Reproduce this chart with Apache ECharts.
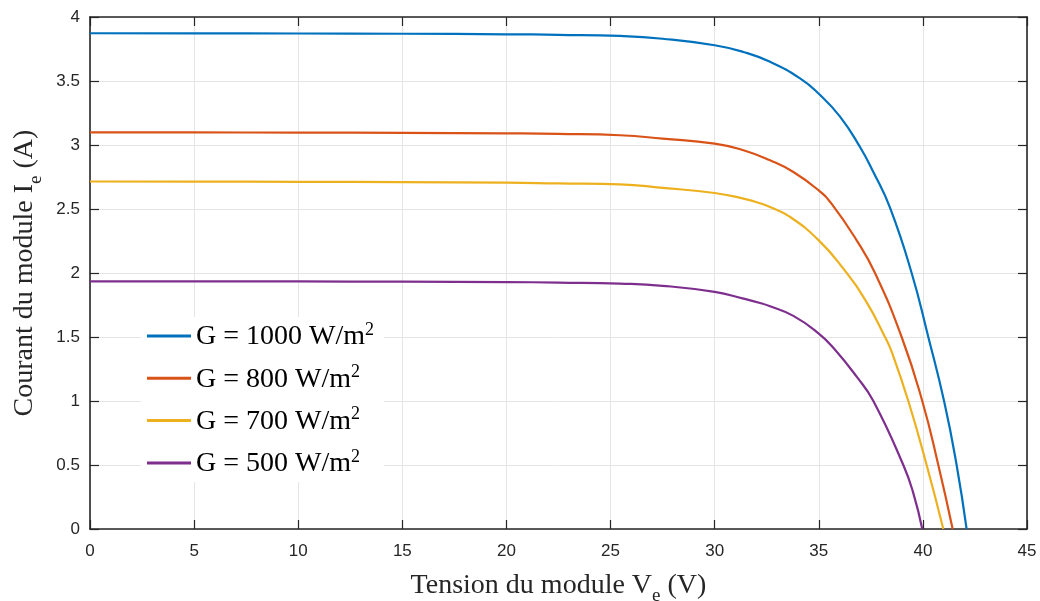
<!DOCTYPE html>
<html>
<head>
<meta charset="utf-8">
<script src="https://cdn.jsdelivr.net/npm/echarts@6/dist/echarts.min.js"></script>
<style>html,body{margin:0;padding:0;background:#fff;}#c{width:1040px;height:601px;}</style>
</head>
<body>
<div id="c"></div>
<script>
// Irradiance levels (legend)
const irradiance = ['1000', '800', '700', '500'];
const colors = ['#0072BD', '#D95319', '#EDB120', '#7E2F8E'];

// Voltage (V) and current (A), per curve
const V1000 = [0, 5, 10, 15, 20, 22.5, 25.45, 27.5, 30, 31.38, 32.66, 34.1, 35, 36.02, 36.98, 37.62, 38.42, 39.46, 40.26, 41.03, 41.62, 42.1];
const I1000 = [3.873, 3.872, 3.871, 3.869, 3.865, 3.861, 3.852, 3.83, 3.779, 3.727, 3.65, 3.52, 3.40, 3.222, 2.984, 2.789, 2.51, 2.0, 1.5, 0.99, 0.5, 0];

const V800 = [0, 5, 10, 15, 20, 22.5, 25.45, 27.5, 30, 31.38, 32.66, 33.78, 35, 35.62, 36.82, 37.7, 38.98, 39.97, 40.74, 41.43];
const I800 = [3.099, 3.098, 3.097, 3.095, 3.091, 3.087, 3.076, 3.05, 3.011, 2.959, 2.88, 2.789, 2.645, 2.54, 2.255, 2.0, 1.5, 1.0, 0.5, 0];

const V700 = [0, 5, 10, 15, 20, 22.5, 25.45, 27.5, 30, 31.38, 32.18, 32.66, 33.62, 35, 36.18, 37.3, 38.18, 38.5, 39.3, 40.18, 40.98];
const I700 = [2.715, 2.714, 2.712, 2.71, 2.706, 2.70, 2.693, 2.665, 2.625, 2.581, 2.545, 2.515, 2.438, 2.255, 2.034, 1.77, 1.5, 1.385, 1.0, 0.5, 0];

const V500 = [0, 5, 10, 15, 20, 22.5, 25.45, 27.5, 30, 31.38, 32.18, 32.66, 33.78, 35, 35.73, 36.82, 37.62, 39.06, 39.54, 39.97];
const I500 = [1.935, 1.935, 1.934, 1.932, 1.929, 1.925, 1.917, 1.90, 1.852, 1.80, 1.766, 1.74, 1.665, 1.527, 1.41, 1.19, 1.0, 0.5, 0.28, 0];

const xTicks = [0, 5, 10, 15, 20, 25, 30, 35, 40, 45];
const yTicks = [0, 0.5, 1, 1.5, 2, 2.5, 3, 3.5, 4];

const curves = [[V1000, I1000], [V800, I800], [V700, I700], [V500, I500]];
const names = irradiance.map(g => 'G = ' + g + ' W/m2');

const axisColor = '#262626';
const tickFont = "'Liberation Sans', Arial, sans-serif";
const serif = "'Liberation Serif', 'Times New Roman', serif";

const baseAxis = {
  axisLine: { show: true, onZero: false, lineStyle: { color: axisColor, width: 1.6 } },
  axisTick: { show: true, inside: true, length: 9, lineStyle: { color: axisColor, width: 1.2 } },
};

const chart = echarts.init(document.getElementById('c'), null, { renderer: 'canvas' });
chart.setOption({
  backgroundColor: '#ffffff',
  animation: false,
  color: colors,
  grid: { left: 90, right: 13, top: 17, bottom: 72, containLabel: false, outerBoundsMode: 'none' },
  legend: {
    orient: 'vertical',
    left: 141,
    top: 317,
    icon: 'rect',
    itemWidth: 44,
    itemHeight: 3,
    itemGap: 12.3,
    backgroundColor: '#ffffff',
    padding: [4, 10, 4, 6],
    data: names,
    formatter: function (n) {
      const g = n.replace('G = ', '').replace(' W/m2', '');
      return '{a|G = ' + g + ' W/m}{s|2}';
    },
    textStyle: {
      rich: {
        a: { fontFamily: serif, fontSize: 28, color: '#000', lineHeight: 30, verticalAlign: 'bottom' },
        s: { fontFamily: serif, fontSize: 18, color: '#000', lineHeight: 14, verticalAlign: 'top', padding: [0, 0, 12, 0] }
      }
    }
  },
  xAxis: [
    Object.assign({}, baseAxis, {
      type: 'value', min: 0, max: 45, interval: 5, position: 'bottom',
      name: '{t|Tension du module V}{s|e}{t| (V)}',
      nameLocation: 'middle', nameGap: 28,
      nameTextStyle: {
        rich: {
          t: { fontFamily: serif, fontSize: 28, color: '#262626', lineHeight: 34 },
          s: { fontFamily: serif, fontSize: 19, color: '#262626', lineHeight: 34, padding: [22, 0, 0, 0] }
        }
      },
      axisLabel: { show: true, margin: 14, color: axisColor, fontFamily: tickFont, fontSize: 17,
        formatter: v => (xTicks.indexOf(v) >= 0 ? String(v) : '') },
      splitLine: { show: true, lineStyle: { color: '#e5e5e5', width: 1 } }
    }),
    Object.assign({}, baseAxis, {
      type: 'value', min: 0, max: 45, interval: 5, position: 'top',
      axisLabel: { show: false }, splitLine: { show: false }
    })
  ],
  yAxis: [
    Object.assign({}, baseAxis, {
      type: 'value', min: 0, max: 4, interval: 0.5, position: 'left',
      name: '{t|Courant du module I}{s|e}{t| (A)}',
      nameLocation: 'middle', nameGap: 48, nameRotate: 90,
      nameTextStyle: {
        rich: {
          t: { fontFamily: serif, fontSize: 28, color: '#262626', lineHeight: 34 },
          s: { fontFamily: serif, fontSize: 19, color: '#262626', lineHeight: 34, padding: [22, 0, 0, 0] }
        }
      },
      axisLabel: { show: true, margin: 10, color: axisColor, fontFamily: tickFont, fontSize: 17,
        formatter: v => (yTicks.indexOf(v) >= 0 ? String(v) : '') },
      splitLine: { show: true, lineStyle: { color: '#e5e5e5', width: 1 } }
    }),
    Object.assign({}, baseAxis, {
      type: 'value', min: 0, max: 4, interval: 0.5, position: 'right',
      axisLabel: { show: false }, splitLine: { show: false }
    })
  ],
  series: curves.map((c, i) => ({
    name: names[i],
    type: 'line',
    xAxisIndex: 0,
    yAxisIndex: 0,
    data: c[0].map((v, k) => [v, c[1][k]]),
    showSymbol: false,
    symbol: 'none',
    smooth: 0.5,
    lineStyle: { width: 2.2, color: colors[i] },
    itemStyle: { color: colors[i] },
    z: 10 - i
  }))
});
</script>
</body>
</html>
